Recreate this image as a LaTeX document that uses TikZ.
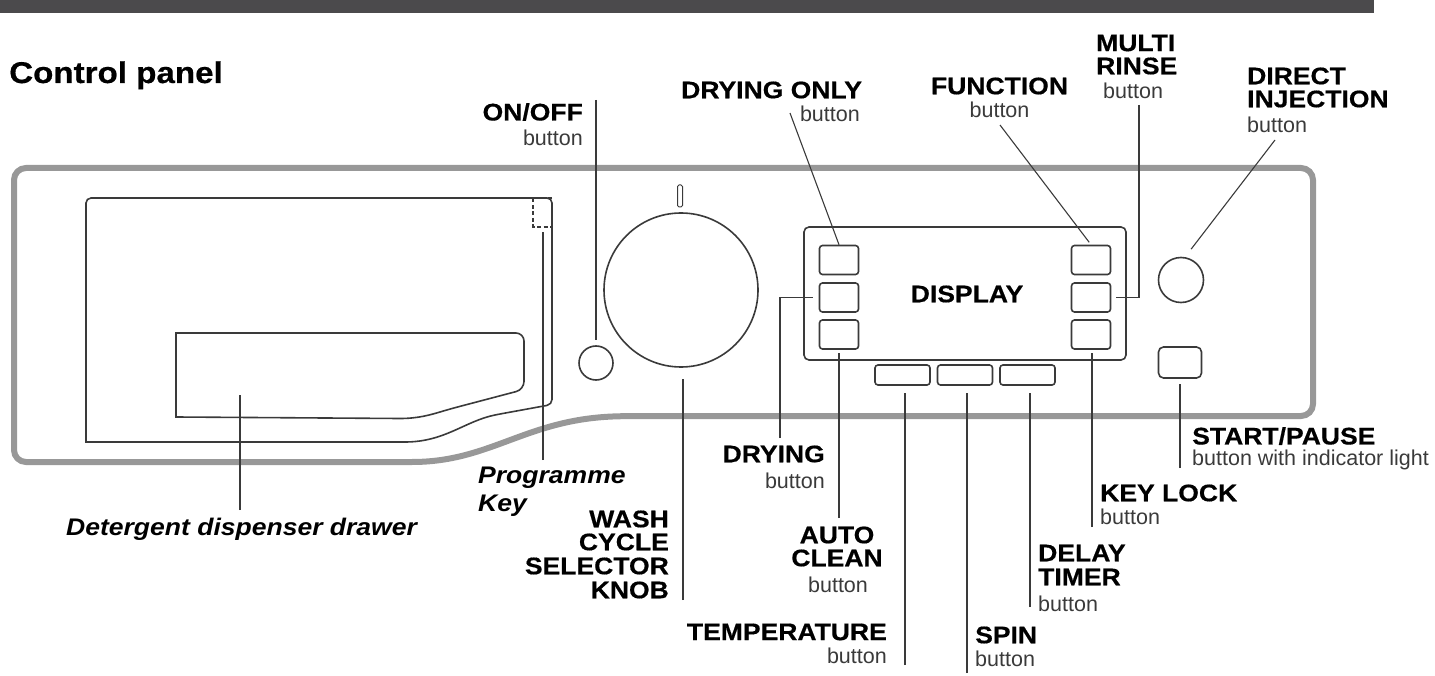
\documentclass[tikz,border=0pt]{standalone}
\usepackage{fontspec}
\setmainfont{Liberation Sans}
\newfontfamily\heavyfont[FakeStretch=1.105,BoldFeatures={FakeBold=0.5}]{Liberation Sans}
\usepackage{tikz}
\definecolor{barcol}{HTML}{4B4A4C}
\definecolor{inkcol}{HTML}{3A3A3A}
\definecolor{framecol}{HTML}{989898}
\tikzset{
    btn/.style={draw=inkcol, line width=1.6pt, rounded corners=3pt, inner sep=0pt},
    head/.style={inner sep=0pt, text=black, font=\fontsize{24}{24}\selectfont\heavyfont\bfseries},
    headit/.style={inner sep=0pt, text=black, font=\fontsize{24}{24}\selectfont\heavyfont\bfseries\itshape},
    sub/.style={inner sep=0pt, text=inkcol, font=\fontsize{21.5}{21.5}\selectfont},
    leader/.style={draw=inkcol, line width=1.1pt},
    outline/.style={draw=inkcol, line width=1.6pt}
}
\begin{document}
\begin{tikzpicture}[x=1pt,y=-1pt]
    \useasboundingbox (0,0) rectangle (1435,676);
    % Top bar and title
    \fill[barcol] (0,0) rectangle (1374,13);
    \node[head, anchor=base west, font=\fontsize{30}{30}\selectfont\heavyfont\bfseries] (title) at (9,83) {Control panel};

    % Panel frame
    \draw[framecol, line width=6pt, rounded corners=12pt] (14,462) -- (14,168) -- (1313,168) -- (1313,416) -- (625,416)
        .. controls (525,420) and (490,462) .. (400,462) -- cycle;

    % Drawer
    \draw[outline] (86,442) [rounded corners=5pt] -- (86,198) -- (552,198) -- (552,404.5) -- (500,414) [sharp corners]
        .. controls (465,421) and (445,442) .. (405,442) -- cycle;
    \draw[outline] (176,417) -- (176,333) [rounded corners=8pt] -- (524,333) -- (524,389.5) -- (450,409) [sharp corners]
        .. controls (430,415) and (418,418.5) .. (400,418.5) -- cycle;
    \draw[inkcol, line width=1.3pt, dashed, dash pattern=on 4pt off 2.5pt] (552,198) -- (533,198) -- (533,227) -- (552,227);

    % Knobs
    \node[draw=inkcol, line width=1.6pt, circle, minimum size=34pt, inner sep=0pt] (onoffknob) at (596,363) {};
    \node[draw=inkcol, line width=1.6pt, circle, minimum size=154pt, inner sep=0pt] (washknob) at (681,290) {};
    \node[draw=inkcol, line width=1pt, rounded corners=1.5pt, minimum width=5pt, minimum height=22pt, inner sep=0pt] (knobmark) at (680,196) {};
    \node[draw=inkcol, line width=1.6pt, circle, minimum size=45pt, inner sep=0pt] (directknob) at (1181,280) {};

    % Display
    \node[btn, minimum width=322pt, minimum height=133pt, rounded corners=5pt] (display) at (965,293.5) {};
    \node[head] (displaytext) at (967,294) {DISPLAY};

    % Buttons
    \foreach \n/\y in {1/260,2/297.5,3/334.5}{
        \node[btn, minimum width=39pt, minimum height=29pt] (left\n) at (839,\y) {};
        \node[btn, minimum width=39pt, minimum height=29pt] (right\n) at (1091,\y) {};
    }
    \foreach \n/\x in {1/902.5,2/965,3/1027.5}{
        \node[btn, minimum width=55pt, minimum height=20pt] (low\n) at (\x,375) {};
    }
    \node[btn, minimum width=43pt, minimum height=31pt, rounded corners=5pt] (start) at (1180,362.5) {};

    % Labels, left side
    \node[head, anchor=east] (onoff) at (583,112) {ON/OFF};
    \node[sub, anchor=east] (onoffsub) at (583,138) {button};
    \node[headit, anchor=base west] (progA) at (478,483) {Programme};
    \node[headit, anchor=base west] (progB) at (478,511) {Key};
    \node[headit, anchor=base west] (drawer) at (66,535) {Detergent dispenser drawer};
    \node[head, anchor=east] (washA) at (669,519) {WASH};
    \node[head, anchor=east] (washB) at (669,542) {CYCLE};
    \node[head, anchor=east] (washC) at (669,566) {SELECTOR};
    \node[head, anchor=east] (washD) at (669,590) {KNOB};

    % Labels, top
    \node[head, anchor=west] (dryonly) at (681,90) {DRYING ONLY};
    \node[sub, anchor=east] (dryonlysub) at (860,114) {button};
    \node[head] (function) at (999.5,86) {FUNCTION};
    \node[sub] (functionsub) at (999.5,110) {button};
    \node[head, anchor=west] (multiA) at (1096,43) {MULTI};
    \node[head, anchor=west] (multiB) at (1096,66) {RINSE};
    \node[sub, anchor=west] (multisub) at (1103,91) {button};
    \node[head, anchor=west] (directA) at (1247,76) {DIRECT};
    \node[head, anchor=west] (directB) at (1247,99) {INJECTION};
    \node[sub, anchor=west] (directsub) at (1247,125) {button};

    % Labels, bottom
    \node[head, anchor=east] (drying) at (825,454) {DRYING};
    \node[sub, anchor=east] (dryingsub) at (825,481) {button};
    \node[head] (autoA) at (837,535) {AUTO};
    \node[head] (autoB) at (837,558) {CLEAN};
    \node[sub] (autosub) at (838,585) {button};
    \node[head, anchor=east] (temp) at (887,632) {TEMPERATURE};
    \node[sub, anchor=east] (tempsub) at (887,656) {button};
    \node[head, anchor=west] (spin) at (975,635) {SPIN};
    \node[sub, anchor=west] (spinsub) at (975,659) {button};
    \node[head, anchor=west] (delayA) at (1038,553) {DELAY};
    \node[head, anchor=west] (delayB) at (1038,577) {TIMER};
    \node[sub, anchor=west] (delaysub) at (1038,604) {button};
    \node[head, anchor=west] (keylock) at (1100,493) {KEY LOCK};
    \node[sub, anchor=west] (keylocksub) at (1100,517) {button};
    \node[head, anchor=west] (startlabel) at (1192,436) {START/PAUSE};
    \node[sub, anchor=west] (startsub) at (1192,460) {button with indicator light};

    % Free ends of the leaders
    \coordinate (onoffend) at (596,100);
    \coordinate (dryonlyend) at (790,113);
    \coordinate (functionend) at (1000,125);
    \coordinate (multiend) at (1139,105);
    \coordinate (directend) at (1275,140);
    \coordinate (dryingend) at (780,438);
    \coordinate (autoend) at (839,518);
    \coordinate (tempend) at (905,665);
    \coordinate (spinend) at (967,673);
    \coordinate (delayend) at (1030,607);
    \coordinate (keyend) at (1092,527);
    \coordinate (startend) at (1180,468);
    \coordinate (washend) at (683,600);
    \coordinate (progend) at (543,460);
    \coordinate (progtip) at (543,232);
    \coordinate (drawerend) at (240,510);
    \coordinate (drawertip) at (240,395);

    % Leaders
    \draw[leader, shorten >=5pt] (onoffend) -- (onoffend |- onoffknob.north);
    \draw[leader] (dryonlyend) -- (left1.north);
    \draw[leader, shorten >=3pt] (functionend) -- (right1.north);
    \draw[leader, shorten >=5pt] (multiend) |- (right2.east);
    \draw[leader, shorten >=10pt] (directend) -- (directknob.80);
    \draw[leader, shorten >=6pt] (dryingend) |- (left2.west);
    \draw[leader, shorten >=3pt] (autoend) -- (left3.south);
    \foreach \a/\b in {tempend/low1,spinend/low2,delayend/low3}{
        \draw[leader, shorten >=7pt] (\a) -- (\a |- \b.south);
    }
    \draw[leader, shorten >=3pt] (keyend) -- (keyend |- right3.south);
    \draw[leader, shorten >=5pt] (startend) -- (start.south);
    \draw[leader, shorten >=11pt] (washend) -- (washend |- washknob.south);
    \draw[leader] (progend) -- (progtip);
    \draw[leader] (drawerend) -- (drawertip);
\end{tikzpicture}
\end{document}
